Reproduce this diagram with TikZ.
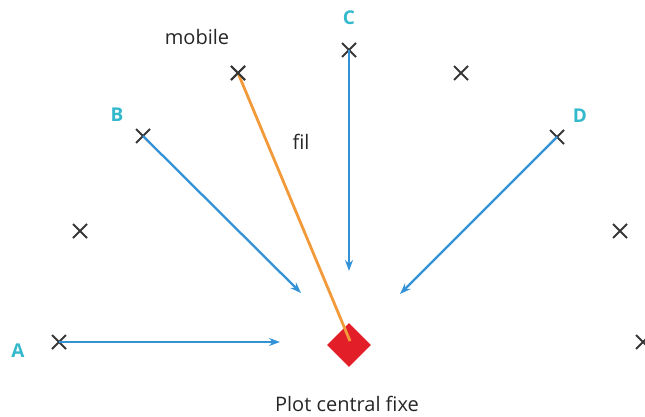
\documentclass[tikz,border=0pt]{standalone}
\usepackage{fontspec}
\setmainfont{Open Sans}
\usetikzlibrary{shapes.misc,shapes.geometric,arrows.meta}
\definecolor{arrowblue}{RGB}{52,146,214}
\definecolor{labcyan}{RGB}{52,184,204}
\definecolor{wireorange}{RGB}{242,154,58}
\definecolor{plotred}{RGB}{226,30,40}
\definecolor{crossgray}{RGB}{55,55,55}
\begin{document}
\begin{tikzpicture}[x=1pt,y=-1pt,
  xmark/.style={cross out,draw=crossgray,line width=2pt,minimum size=12pt,inner sep=0pt},
  letter/.style={text=labcyan,font=\bfseries\fontsize{19}{22}\selectfont},
  plain/.style={text=black!85,font=\fontsize{20}{24}\selectfont},
  vec/.style={draw=arrowblue,line width=2.3pt,-{Stealth[length=11pt,width=8pt]}},
  wire/.style={draw=wireorange,line width=2.8pt}]
\useasboundingbox (0,0) rectangle (645,417);
% crosses
\node[xmark] (A) at (59,342) {};
\node[xmark] (x1) at (80,231) {};
\node[xmark] (B) at (143,136) {};
\node[xmark] (mob) at (238,73) {};
\node[xmark] (C) at (349,50) {};
\node[xmark] (x2) at (461,73) {};
\node[xmark] (D) at (557,137) {};
\node[xmark] (x3) at (620,231) {};
\node[xmark] (x4) at (643,342) {};
% labels
\node[letter] (lA) at (18,351) {A};
\node[letter] (lB) at (117,115) {B};
\node[letter] (lC) at (349,18) {C};
\node[letter] (lD) at (580,116) {D};
\node[plain] (lmob) at (197,37) {mobile};
\node[plain] (lplot) at (347,404) {Plot central fixe};
\node[plain] (lfil) at (301,142) {fil};
% arrow ends
\coordinate (eA) at (280,342);
\coordinate (eB) at (301,293);
\coordinate (eC) at (349,271);
\coordinate (eD) at (400,294);
\draw[vec] (A.center) -- (eA);
\draw[vec] (B.center) -- (eB);
\draw[vec] (C.center) -- (eC);
\draw[vec] (D.center) -- (eD);
% plot
\node[diamond,fill=plotred,minimum size=44pt,inner sep=0pt] (plot) at (349,345) {};
\coordinate (wend) at (350,341);
\draw[wire] (mob.center) -- (wend);
\node[xmark] at (mob) {};
\end{tikzpicture}
\end{document}
